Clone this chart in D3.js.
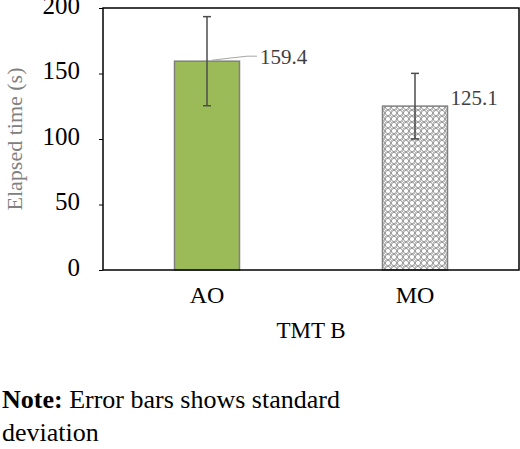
<!DOCTYPE html>
<html><head><meta charset="utf-8">
<script src="https://cdn.jsdelivr.net/npm/d3@7"></script>
<style>body{margin:0;background:#fff}</style>
</head><body><div class="chart"></div>
<script>
// TMT B elapsed time, mean with standard deviation
var categories = ["AO", "MO"];
var means = [159.4, 125.1];
var sds = [34, 25];
var yTicks = [0, 50, 100, 150, 200];

var margins = { top: 8, right: 1, bottom: 179, left: 103 };
var width = 520 - margins.left - margins.right;
var height = 449 - margins.top - margins.bottom;

var svg = d3.select(".chart").append("svg")
    .attr("width", 520).attr("height", 449)
    .style("font-family", "Liberation Serif");

var defs = svg.append("defs");
var pat = defs.append("pattern").attr("id", "lattice")
    .attr("patternUnits", "userSpaceOnUse").attr("width", 6).attr("height", 6);
pat.append("rect").attr("width", 6).attr("height", 6).attr("fill", "#fff");
pat.append("circle").attr("cx", 3).attr("cy", 3).attr("r", 2.6)
    .attr("fill", "none").attr("stroke", "#8a8a8a").attr("stroke-width", 0.9);
pat.append("circle").attr("cx", 0).attr("cy", 0).attr("r", 1).attr("fill", "#9a9a9a");
pat.append("circle").attr("cx", 6).attr("cy", 6).attr("r", 1).attr("fill", "#9a9a9a");

var g = svg.append("g")
    .attr("transform", "translate(" + margins.left + "," + margins.top + ")");

var x = d3.scaleBand().domain(categories).range([0, width]);
var y = d3.scaleLinear().domain([0, 200]).range([height, 0]);
var bw = 65;

g.selectAll(".bar").data(categories).enter().append("rect")
    .attr("class", "bar")
    .attr("x", function (d) { return x(d) + x.bandwidth() / 2 - bw / 2; })
    .attr("width", bw)
    .attr("y", function (d, i) { return y(means[i]); })
    .attr("height", function (d, i) { return height - y(means[i]); })
    .attr("fill", function (d, i) { return i == 0 ? "#9bbb59" : "url(#lattice)"; })
    .attr("stroke", "#7f7f7f").attr("stroke-width", 1.5);

// error bars
categories.forEach(function (c, i) {
    var cx = x(c) + x.bandwidth() / 2;
    var e = g.append("g").attr("stroke", "#4d4d4d").attr("stroke-width", 1.5);
    e.append("line").attr("x1", cx).attr("x2", cx)
        .attr("y1", y(means[i] + sds[i])).attr("y2", y(means[i] - sds[i]));
    [means[i] + sds[i], means[i] - sds[i]].forEach(function (v) {
        e.append("line").attr("x1", cx - 4).attr("x2", cx + 4)
            .attr("y1", y(v)).attr("y2", y(v));
    });
});

// value labels
var cx0 = x("AO") + x.bandwidth() / 2;
g.append("path")
    .attr("d", "M" + (cx0 + 5) + "," + (y(means[0]) - 1) + "L" + (cx0 + 40) + "," + (y(means[0]) - 5) + "L" + (cx0 + 50) + "," + (y(means[0]) - 5))
    .attr("fill", "none").attr("stroke", "#a6a6a6");
g.append("text").attr("x", cx0 + 53).attr("y", y(means[0]) + 3)
    .attr("font-size", 21).attr("fill", "#404040").text(means[0].toFixed(1));
var cx1 = x("MO") + x.bandwidth() / 2;
g.append("text").attr("x", cx1 + bw / 2 + 3).attr("y", y(means[1]) - 1)
    .attr("font-size", 21).attr("fill", "#404040").text(means[1].toFixed(1));

// frame
g.append("rect").attr("width", width).attr("height", height)
    .attr("fill", "none").attr("stroke", "#000").attr("stroke-width", 1.5);

var ya = g.append("g").call(d3.axisLeft(y).tickValues(yTicks).tickSize(4).tickPadding(19));
ya.select(".domain").remove();
ya.selectAll("text").attr("font-size", 25).attr("font-family", "Liberation Serif").attr("fill", "#000")
    .attr("dy", "0.2em");

var xa = g.append("g").attr("transform", "translate(0," + height + ")")
    .call(d3.axisBottom(x).tickSize(0).tickPadding(16));
xa.select(".domain").remove();
xa.selectAll("text").attr("font-size", 24).attr("font-family", "Liberation Serif").attr("fill", "#000");

svg.append("text").attr("x", margins.left + width / 2).attr("y", 338)
    .attr("text-anchor", "middle").attr("font-size", 23).text("TMT B");

svg.append("text").attr("transform", "translate(22," + (margins.top + height / 2) + ") rotate(-90)")
    .attr("text-anchor", "middle").attr("font-size", 22).attr("fill", "#808080").text("Elapsed time (s)");

var note = svg.append("text").attr("x", 2).attr("y", 408).attr("font-size", 26);
note.append("tspan").attr("font-weight", "bold").text("Note:");
note.append("tspan").text(" Error bars shows standard");
svg.append("text").attr("x", 2).attr("y", 441).attr("font-size", 26).text("deviation");
</script></body></html>
